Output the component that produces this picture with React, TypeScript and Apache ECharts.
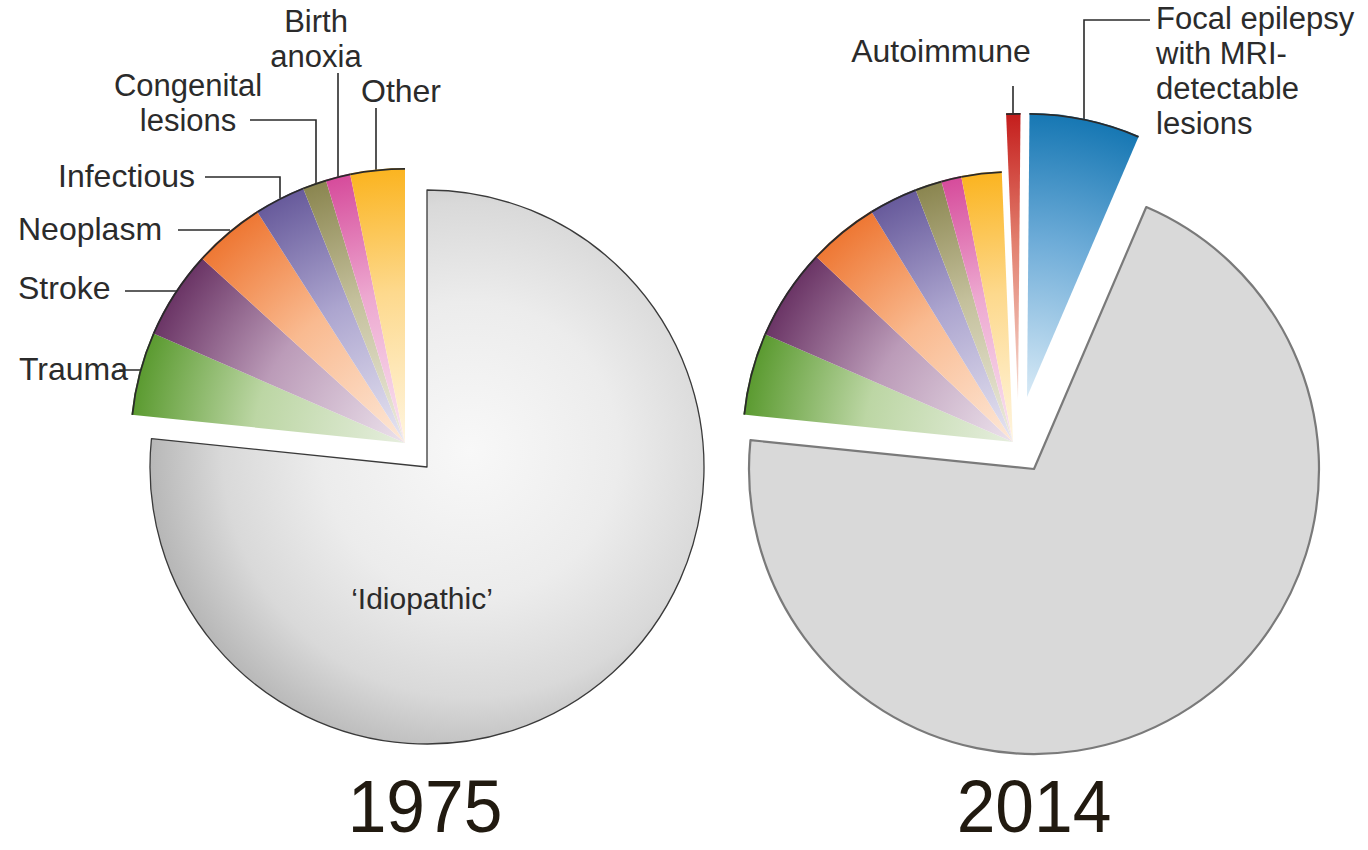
import React, { useEffect, useRef } from "react";
import * as echarts from "echarts";

// ---------- data ----------
const KEYS_1975 = ["idiopathic", "trauma", "stroke", "neoplasm", "infectious", "congenital", "birth", "other"];
const LABELS_1975 = ["\u2018Idiopathic\u2019", "Trauma", "Stroke", "Neoplasm", "Infectious", "Congenital\nlesions", "Birth\nanoxia", "Other"];
const VALUES_1975 = [76.6, 4.9, 5.2, 4.2, 3.0, 1.4, 1.45, 3.2];

const KEYS_2014 = ["focal", "idiopathic", "trauma", "stroke", "neoplasm", "infectious", "congenital", "birth", "other", "autoimmune"];
const LABELS_2014 = ["Focal epilepsy\nwith MRI-\ndetectable\nlesions", "Idiopathic", "Trauma", "Stroke", "Neoplasm", "Infectious", "Congenital lesions", "Birth anoxia", "Other", "Autoimmune"];
const VALUES_2014 = [6.3, 70.1, 4.9, 5.5, 4.2, 2.9, 1.6, 1.2, 2.4, 0.8];

const YEARS = ["1975", "2014"];

// ---------- styles / layout ----------
const FONT = "'Liberation Sans', Arial, sans-serif";
const TEXT_COLOR = "#2b2b2b";

const COLORS: Record<string, [string, string, string]> = {
  trauma: ["#e6eede", "#bcd6a4", "#5a9a2f"],
  stroke: ["#ece2ec", "#bb9bb8", "#6a3465"],
  neoplasm: ["#fde8d8", "#f9ba90", "#ee7733"],
  infectious: ["#e8e6f2", "#aca5cf", "#675a9b"],
  congenital: ["#eeece0", "#c4c09c", "#8a854f"],
  birth: ["#f9e6f1", "#eda8d0", "#d64b9b"],
  other: ["#fff5df", "#fdd98d", "#fbb420"],
  autoimmune: ["#f6dcd2", "#e27f6e", "#c41d1c"],
  focal: ["#d8eaf6", "#6eacd8", "#1677b3"],
};

type Group = { keys: string[]; center: [number, number]; r: number; arc?: boolean; kind?: string };

const GROUPS_1975: Group[] = [
  { keys: ["idiopathic"], center: [427, 467], r: 277, kind: "idio1975" },
  { keys: ["trauma", "stroke", "neoplasm", "infectious", "congenital", "birth", "other"], center: [405, 443], r: 275, arc: true },
];
const GROUPS_2014: Group[] = [
  { keys: ["idiopathic"], center: [1034, 469], r: 285, kind: "idio2014" },
  { keys: ["trauma", "stroke", "neoplasm", "infectious", "congenital", "birth", "other"], center: [1013, 442], r: 271, arc: true },
  { keys: ["autoimmune"], center: [1018, 400], r: 287, arc: true },
  { keys: ["focal"], center: [1027, 397], r: 284, arc: true },
];

type LP = { x: number; y: number; align: string; line?: number[][]; lineHeight?: number; fontSize?: number };

const LABELPOS_1975: Record<string, LP> = {
  idiopathic: { x: 422, y: 598, align: "center", fontSize: 30 },
  trauma: { x: 19, y: 369, align: "left", line: [[152, 370], [136, 370], [119, 370]] },
  stroke: { x: 18, y: 288, align: "left", line: [[181, 291], [150, 291], [125, 291]] },
  neoplasm: { x: 18, y: 229, align: "left", line: [[230, 230], [200, 230], [178, 230]] },
  infectious: { x: 195, y: 176, align: "right", line: [[280, 198], [280, 177], [205, 177]] },
  congenital: { x: 188, y: 103, align: "center", fontSize: 31, lineHeight: 35, line: [[316, 185], [316, 120], [250, 120]] },
  birth: { x: 316, y: 39, align: "center", fontSize: 31, lineHeight: 35, line: [[338, 180], [338, 120], [338, 73]] },
  other: { x: 401, y: 91, align: "center", line: [[376, 172], [376, 140], [376, 108]] },
};
const LABELPOS_2014: Record<string, LP> = {
  autoimmune: { x: 941, y: 51, align: "center", line: [[1013, 113], [1013, 100], [1013, 86]] },
  focal: { x: 1156, y: 71, align: "left", fontSize: 31, lineHeight: 35, line: [[1084, 119], [1084, 20], [1150, 20]] },
};

function sliceColor(key: string, cx: number, cy: number, r: number) {
  const c = COLORS[key];
  return new echarts.graphic.RadialGradient(cx, cy, r, [
    { offset: 0, color: c[0] },
    { offset: 0.55, color: c[1] },
    { offset: 1, color: c[2] },
  ], true);
}

function buildSeries(keys: string[], labels: string[], values: number[], groups: Group[], labelPos: Record<string, LP>, startAngle: number) {
  const out: any[] = [];
  groups.forEach((g) => {
    const [cx, cy] = g.center;
    const data = keys.map((k, i) => {
      const visible = g.keys.includes(k);
      let color: any = "transparent";
      let borderColor = "transparent";
      let borderWidth = 0;
      if (visible) {
        if (g.kind === "idio1975") {
          color = new echarts.graphic.RadialGradient(470, 450, 330, [
            { offset: 0, color: "#f8f8f8" },
            { offset: 0.45, color: "#ececec" },
            { offset: 0.75, color: "#d9d9d9" },
            { offset: 1, color: "#b3b3b3" },
          ], true);
          borderColor = "#3a3a3a";
          borderWidth = 1.3;
        } else if (g.kind === "idio2014") {
          color = "#d9d9d9";
          borderColor = "#7a7a7a";
          borderWidth = 2.2;
        } else {
          color = sliceColor(k, cx, cy, g.r);
        }
      }
      const lp = visible ? labelPos[k] : undefined;
      const lbl: any = { show: !!lp };
      if (lp && lp.lineHeight) lbl.lineHeight = lp.lineHeight;
      if (lp && lp.fontSize) lbl.fontSize = lp.fontSize;
      return {
        name: labels[i],
        value: values[i],
        itemStyle: { color, borderColor, borderWidth },
        label: lbl,
        labelLine: { show: !!(lp && lp.line) },
      };
    });
    out.push({
      type: "pie",
      center: g.center,
      radius: [0, g.r],
      startAngle,
      clockwise: true,
      silent: true,
      avoidLabelOverlap: false,
      minShowLabelAngle: 0,
      emphasis: { disabled: true },
      label: {
        position: "outside",
        formatter: "{b}",
        fontSize: 32,
        lineHeight: 36,
        color: TEXT_COLOR,
        fontFamily: FONT,
        overflow: "none",
      },
      labelLine: { show: true, length: 10, length2: 10, lineStyle: { color: "#2a2a2a", width: 1.6 } },
      labelLayout: (p: any) => {
        const k = keys[p.dataIndex];
        const lp = g.keys.includes(k) ? labelPos[k] : undefined;
        if (!lp) return {};
        const res: any = { x: lp.x, y: lp.y, align: lp.align, verticalAlign: "middle" };
        if (lp.line) res.labelLinePoints = lp.line;
        return res;
      },
      data,
    });
    if (g.arc) {
      out.push({
        type: "pie",
        center: g.center,
        radius: [g.r - 1.8, g.r],
        startAngle,
        clockwise: true,
        silent: true,
        emphasis: { disabled: true },
        label: { show: false },
        labelLine: { show: false },
        data: keys.map((k, i) => ({
          name: labels[i],
          value: values[i],
          itemStyle: { color: g.keys.includes(k) ? "#2a2a2a" : "transparent", borderWidth: 0 },
        })),
      });
    }
  });
  return out;
}

const YEAR_X = [425, 1034];

export default function App() {
  const ref = useRef<HTMLDivElement>(null);
  useEffect(() => {
    if (!ref.current) return;
    const chart = echarts.init(ref.current, undefined, { renderer: "svg" });
    const series = [
      ...buildSeries(KEYS_1975, LABELS_1975, VALUES_1975, GROUPS_1975, LABELPOS_1975, 90),
      ...buildSeries(KEYS_2014, LABELS_2014, VALUES_2014, GROUPS_2014, LABELPOS_2014, 89.5),
    ];
    chart.setOption({
      animation: false,
      backgroundColor: "#ffffff",
      tooltip: { show: false },
      series,
      graphic: YEARS.map((y, i) => ({
        type: "text",
        x: YEAR_X[i],
        y: 806,
        scaleX: 0.94,
        silent: true,
        style: {
          text: y,
          fontSize: 74,
          fontFamily: FONT,
          fill: "#211a10",
          textAlign: "center",
          textVerticalAlign: "middle",
        },
      })),
    });
    return () => chart.dispose();
  }, []);
  return (
    <div
      ref={ref}
      style={{ position: "absolute", left: 0, top: 0, width: 1368, height: 850, background: "#fff" }}
    />
  );
}
